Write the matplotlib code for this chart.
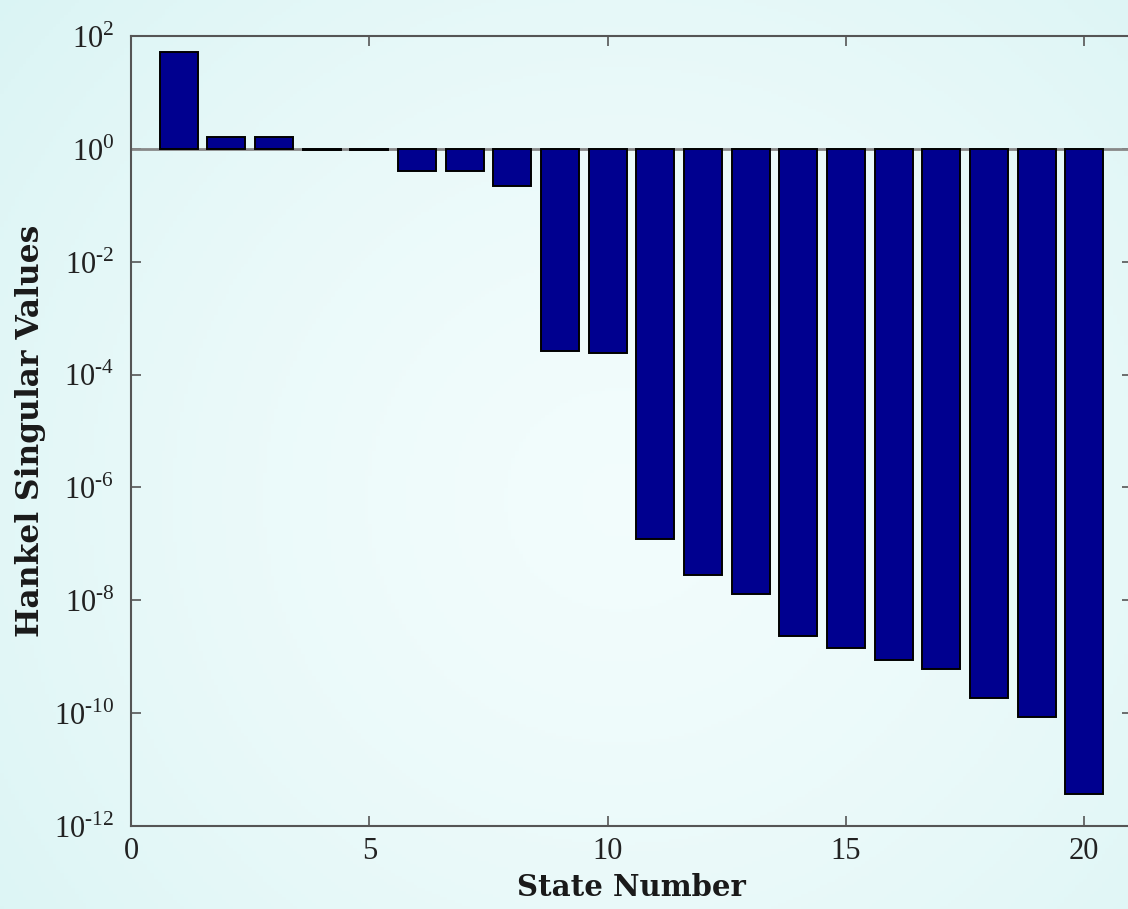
import numpy as np
import matplotlib
matplotlib.use("Agg")
import matplotlib.pyplot as plt
from matplotlib.ticker import FixedLocator, FuncFormatter

# --- Data ---
states = list(range(1, 21))
hsv = [52, 1.6, 1.6, 0.95, 0.95, 0.41, 0.41, 0.22, 2.6e-4, 2.4e-4,
       1.2e-7, 2.8e-8, 1.3e-8, 2.3e-9, 1.4e-9, 8.7e-10, 6.0e-10,
       1.85e-10, 8.5e-11, 3.7e-12]
xticks = [0, 5, 10, 15, 20]
yticks = [1e-12, 1e-10, 1e-8, 1e-6, 1e-4, 1e-2, 1e0, 1e2]

plt.rcParams['font.family'] = ['Liberation Serif', 'DejaVu Serif']
plt.rcParams['mathtext.fontset'] = 'custom'
plt.rcParams['mathtext.rm'] = 'Liberation Serif'

fig = plt.figure(figsize=(11.28, 9.09), dpi=100)

# --- background gradient ---
bg = fig.add_axes([0, 0, 1, 1], zorder=-10)
yy, xx = np.mgrid[0:1:300j, 0:1:300j]
r = np.sqrt(((xx - 0.55) / 0.75) ** 2 + ((yy - 0.45) / 0.9) ** 2)
r = np.clip(r, 0, 1)
c0 = np.array([0.95, 0.99, 0.99])
c1 = np.array([0.85, 0.955, 0.955])
img = c0 + (c1 - c0) * r[..., None] ** 1.5
bg.imshow(img, aspect='auto', extent=[0, 1, 0, 1], origin='lower')
bg.axis('off')

# --- main plot ---
ax = fig.add_axes([0.1161, 0.0913, 0.8874, 0.8691])
ax.set_facecolor('none')
vals = np.array(hsv)
ax.bar(states, vals - 1, bottom=1, width=0.8, color='#00008f',
       edgecolor='black', linewidth=1.4, zorder=3)
ax.set_yscale('log')
ax.set_ylim(1e-12, 1e2)
ax.set_xlim(0, 21)
ax.axhline(1, color='#888888', linewidth=2, zorder=2)


def exp_label(v, p):
    e = int(round(np.log10(v)))
    s = str(abs(e))
    if e < 0:
        s = '\u2010' + s
    return r'$10^{%s}$' % s


ax.xaxis.set_major_locator(FixedLocator(xticks))
ax.yaxis.set_major_locator(FixedLocator(yticks))
ax.yaxis.set_minor_locator(FixedLocator([]))
ax.yaxis.set_major_formatter(FuncFormatter(exp_label))
ax.tick_params(direction='in', top=True, right=True, length=7, width=1.2,
               color='#555555', labelsize=22, labelcolor='#222222', pad=8)
ax.tick_params(axis='y', pad=12)
for s in ax.spines.values():
    s.set_color('#555555')
    s.set_linewidth(1.5)

ax.set_xlabel('State Number', fontsize=21, fontweight='bold', labelpad=5,
              family='DejaVu Serif', color='#1a1a1a')
ax.set_ylabel('Hankel Singular Values', fontsize=22.5, fontweight='bold', labelpad=6,
              family='DejaVu Serif', color='#1a1a1a')

fig.savefig('out.png', dpi=100)
